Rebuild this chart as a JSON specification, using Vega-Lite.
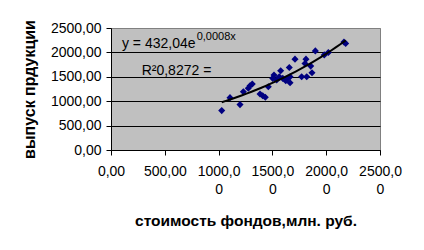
{
  "$schema": "https://vega.github.io/schema/vega-lite/v6.json",
  "width": 269,
  "height": 122,
  "autosize": {"type": "none"},
  "padding": {"left": 111, "top": 28, "right": 44, "bottom": 100},
  "background": "white",
  "config": {
    "font": "Liberation Sans",
    "view": {"fill": "#C0C0C0", "stroke": "#808080", "strokeWidth": 1}
  },
  "datasets": {
    "pts": [
      {"fondy": 1029, "vypusk": 807},
      {"fondy": 1106, "vypusk": 1073},
      {"fondy": 1199, "vypusk": 930},
      {"fondy": 1230, "vypusk": 1195},
      {"fondy": 1276, "vypusk": 1264},
      {"fondy": 1292, "vypusk": 1317},
      {"fondy": 1313, "vypusk": 1352},
      {"fondy": 1385, "vypusk": 1148},
      {"fondy": 1410, "vypusk": 1113},
      {"fondy": 1434, "vypusk": 1081},
      {"fondy": 1462, "vypusk": 1297},
      {"fondy": 1503, "vypusk": 1468},
      {"fondy": 1515, "vypusk": 1535},
      {"fondy": 1540, "vypusk": 1433},
      {"fondy": 1564, "vypusk": 1501},
      {"fondy": 1577, "vypusk": 1623},
      {"fondy": 1596, "vypusk": 1468},
      {"fondy": 1624, "vypusk": 1419},
      {"fondy": 1643, "vypusk": 1470},
      {"fondy": 1657, "vypusk": 1692},
      {"fondy": 1664, "vypusk": 1378},
      {"fondy": 1664, "vypusk": 1501},
      {"fondy": 1710, "vypusk": 1862},
      {"fondy": 1772, "vypusk": 1501},
      {"fondy": 1803, "vypusk": 1774},
      {"fondy": 1812, "vypusk": 1862},
      {"fondy": 1819, "vypusk": 1501},
      {"fondy": 1856, "vypusk": 1719},
      {"fondy": 1868, "vypusk": 1582},
      {"fondy": 1899, "vypusk": 2031},
      {"fondy": 1982, "vypusk": 1949},
      {"fondy": 2020, "vypusk": 1998},
      {"fondy": 2165, "vypusk": 2214},
      {"fondy": 2181, "vypusk": 2182}
    ],
    "ann": [
      {"fondy": 102, "vypusk": 2182, "label": "y = 432,04e", "kind": "big"},
      {"fondy": 285, "vypusk": 1623, "label": "R²0,8272 =", "kind": "big"},
      {"fondy": 796, "vypusk": 2316, "label": "0,0008x", "kind": "small"}
    ]
  },
  "data": {"name": "pts"},
  "encoding": {
    "x": {
      "field": "fondy",
      "type": "quantitative",
      "scale": {"domain": [0, 2500], "nice": false, "zero": false},
      "axis": {
        "title": "стоимость фондов,млн. руб.",
        "values": [0, 500, 1000, 1500, 2000, 2500],
        "grid": false,
        "domainColor": "black",
        "tickColor": "black",
        "tickSize": 5,
        "labelColor": "black",
        "labelFontSize": 14,
        "labelExpr": "datum.value < 1000 ? datum.value + ',00' : [datum.value + ',0', '0']",
        "labelLineHeight": 18,
        "labelPadding": 9,
        "labelFlush": false,
        "labelOverlap": false,
        "labelBound": false,
        "labelBaseline": "top",
        "titleFontSize": 15.5,
        "titleFontWeight": "bold",
        "titleColor": "black",
        "titleX": 134.5,
        "titleY": 75,
        "titleBaseline": "alphabetic"
      }
    },
    "y": {
      "field": "vypusk",
      "type": "quantitative",
      "scale": {"domain": [0, 2500], "nice": false, "zero": false},
      "axis": {
        "title": "выпуск прдукции",
        "values": [0, 500, 1000, 1500, 2000, 2500],
        "grid": true,
        "gridColor": {"condition": {"test": "datum.value == 2500", "value": "#808080"}, "value": "black"},
        "gridWidth": 1,
        "gridOpacity": 1,
        "domainColor": "black",
        "tickColor": "black",
        "tickSize": 5,
        "labelColor": "black",
        "labelFontSize": 14,
        "labelExpr": "datum.value + ',00'",
        "labelPadding": 5,
        "labelOverlap": false,
        "labelBound": false,
        "labelFlush": false,
        "titleFontSize": 16,
        "titleFontWeight": "bold",
        "titleColor": "black",
        "titleAngle": -90,
        "titleAlign": "center",
        "titleBaseline": "alphabetic",
        "titleX": -77,
        "titleY": 61
      }
    }
  },
  "layer": [
    {
      "mark": {"type": "point", "shape": "diamond", "filled": true, "color": "#000080", "size": 50, "opacity": 1}
    },
    {
      "transform": [{"regression": "vypusk", "on": "fondy", "method": "exp"}],
      "mark": {"type": "line", "color": "black", "strokeWidth": 2}
    },
    {
      "data": {"name": "ann"},
      "transform": [{"filter": "datum.kind == 'big'"}],
      "mark": {"type": "text", "align": "left", "baseline": "middle", "fontSize": 14, "color": "black"},
      "encoding": {"text": {"field": "label"}}
    },
    {
      "data": {"name": "ann"},
      "transform": [{"filter": "datum.kind == 'small'"}],
      "mark": {"type": "text", "align": "left", "baseline": "middle", "fontSize": 11, "color": "black"},
      "encoding": {"text": {"field": "label"}}
    }
  ]
}
